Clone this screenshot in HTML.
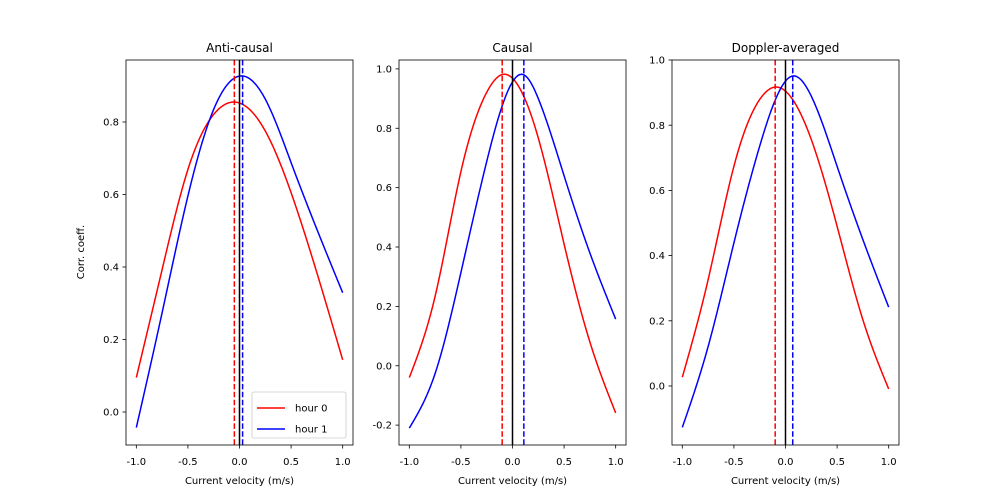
<!DOCTYPE html>
<html><head><meta charset="utf-8"><style>
body{margin:0;background:#fff}
svg{display:block;font-family:"DejaVu Sans","Liberation Sans",sans-serif}
</style></head><body>
<svg id="fig" width="1000" height="500" viewBox="0 0 1000 500"></svg>
<script>
const xTickLabels=["-1.0","-0.5","0.0","0.5","1.0"];
const xTicks=[-1,-0.5,0,0.5,1];
const titles=["Anti-causal","Causal","Doppler-averaged"];
const xs1=[-1,-0.75,-0.5,-0.25,-0.05,0.25,0.5,0.75,1];
const red1=[0.095,0.393,0.669,0.821,0.855,0.775,0.605,0.384,0.144];
const xb1=[-1,-0.75,-0.5,-0.25,0.03,0.25,0.5,0.75,1];
const blue1=[-0.043,0.274,0.596,0.835,0.927,0.863,0.688,0.504,0.329];
const xs2=[-1,-0.75,-0.5,-0.25,-0.1,0.25,0.5,0.75,1];
const red2=[-0.04,0.234,0.654,0.921,0.981,0.767,0.41,0.08,-0.159];
const xb2=[-1,-0.75,-0.5,-0.25,0.11,0.25,0.5,0.75,1];
const blue2=[-0.21,-0.026,0.314,0.688,0.98,0.9,0.64,0.38,0.157];
const xs3=[-1,-0.75,-0.5,-0.25,-0.1,0.25,0.5,0.75,1];
const red3=[0.027,0.326,0.674,0.879,0.917,0.756,0.49,0.203,-0.009];
const xb3=[-1,-0.75,-0.5,-0.25,0.07,0.25,0.5,0.75,1];
const blue3=[-0.127,0.121,0.439,0.736,0.951,0.889,0.674,0.449,0.242];
const peaksRed=[-0.05,-0.1,-0.1];
const peaksBlue=[0.03,0.11,0.07];
const yTicks1=[0,0.2,0.4,0.6,0.8], yTicks2=[-0.2,0,0.2,0.4,0.6,0.8,1.0], yTicks3=[0,0.2,0.4,0.6,0.8,1.0];
const yRanges=[[-0.091,0.971],[-0.267,1.030],[-0.181,1.0]];

const NS="http://www.w3.org/2000/svg";
const svg=document.getElementById('fig');
function mk(tag,attrs,parent){const e=document.createElementNS(NS,tag);for(const k in attrs)e.setAttribute(k,attrs[k]);(parent||svg).appendChild(e);return e;}
function spline(xs,ys){
  const n=xs.length,h=[],a=[],l=[1],mu=[0],z=[0],c=new Array(n).fill(0),b=[],d=[];
  for(let i=0;i<n-1;i++)h.push(xs[i+1]-xs[i]);
  for(let i=1;i<n-1;i++)a[i]=3/h[i]*(ys[i+1]-ys[i])-3/h[i-1]*(ys[i]-ys[i-1]);
  for(let i=1;i<n-1;i++){l[i]=2*(xs[i+1]-xs[i-1])-h[i-1]*mu[i-1];mu[i]=h[i]/l[i];z[i]=(a[i]-h[i-1]*z[i-1])/l[i];}
  for(let j=n-2;j>=0;j--){c[j]=(j<n-1&&j>0?z[j]:0)-mu[j]*c[j+1];if(j===0)c[0]=0;b[j]=(ys[j+1]-ys[j])/h[j]-h[j]*(c[j+1]+2*c[j])/3;d[j]=(c[j+1]-c[j])/(3*h[j]);}
  return x=>{let j=0;while(j<n-2&&x>xs[j+1])j++;const t=x-xs[j];return ys[j]+b[j]*t+c[j]*t*t+d[j]*t*t*t;};
}
function curvePath(xs,ys,X,Y){
  const f=spline(xs,ys);let d='';
  for(let k=0;k<=200;k++){const x=xs[0]+(xs[xs.length-1]-xs[0])*k/200;d+=(k?'L':'M')+X(x).toFixed(2)+','+Y(f(x)).toFixed(2);}
  return d;
}
const lefts=[126,399,672], W=227, AX_TOP=60, AX_BOT=445;
const series=[[xs1,red1,xb1,blue1,yTicks1],[xs2,red2,xb2,blue2,yTicks2],[xs3,red3,xb3,blue3,yTicks3]];
for(let p=0;p<3;p++){
  const L=lefts[p];
  const [y0,y1]=yRanges[p];
  const X=v=>L+(v+1.1)/2.2*W;
  const Y=v=>AX_BOT-(v-y0)/(y1-y0)*(AX_BOT-AX_TOP);
  const g=mk('g',{});
  
  
  const [xr,yr,xbb,ybb,yt]=series[p];
  const rl=mk('path',{d:curvePath(xr,yr,X,Y),fill:'none',stroke:'#f00','stroke-width':1.5},g);
  
  
  const bl=mk('path',{d:curvePath(xbb,ybb,X,Y),fill:'none',stroke:'#00f','stroke-width':1.5},g);
  
  
  const rd=mk('line',{x1:X(peaksRed[p]),x2:X(peaksRed[p]),y1:AX_TOP,y2:AX_BOT,stroke:'#f00','stroke-width':1.5,'stroke-dasharray':'5.5,2.4'},g);
  
  
  const bd=mk('line',{x1:X(peaksBlue[p]),x2:X(peaksBlue[p]),y1:AX_TOP,y2:AX_BOT,stroke:'#00f','stroke-width':1.5,'stroke-dasharray':'5.5,2.4'},g);
  
  
  const vz=mk('line',{x1:X(0),x2:X(0),y1:AX_TOP,y2:AX_BOT,stroke:'#000','stroke-width':1.5},g);
  
  
  const fr=mk('rect',{x:L,y:AX_TOP,width:W,height:AX_BOT-AX_TOP,fill:'none',stroke:'#000','stroke-width':0.8},g);
  
  
  xTicks.forEach((v,i)=>{
    mk('line',{x1:X(v),x2:X(v),y1:AX_BOT,y2:AX_BOT+3.5,stroke:'#000','stroke-width':0.8},g);
    const t=mk('text',{x:X(v),y:AX_BOT+20,'font-size':10,'text-anchor':'middle'},g);t.textContent=xTickLabels[i];
    
    
  });
  yt.forEach(v=>{
    mk('line',{x1:L-3.5,x2:L,y1:Y(v),y2:Y(v),stroke:'#000','stroke-width':0.8},g);
    const t=mk('text',{x:L-7,y:Y(v)+3.6,'font-size':10,'text-anchor':'end'},g);t.textContent=v.toFixed(1);
    
    
  });
  const tt=mk('text',{x:L+W/2,y:52,'font-size':12,'text-anchor':'middle'},g);tt.textContent=titles[p];
  
  
  const xl=mk('text',{x:L+W/2,y:484,'font-size':10,'text-anchor':'middle'},g);xl.textContent='Current velocity (m/s)';
  
  
}
const yl=mk('text',{x:84,y:252,'font-size':10,'text-anchor':'middle',transform:'rotate(-90 84 252)'});yl.textContent='Corr. coeff.';


const lg=mk('g',{});


mk('rect',{x:252,y:392,width:94,height:46,rx:2,fill:'#fff','fill-opacity':0.8,stroke:'#ccc','stroke-width':0.8},lg);
[['hour 0','#f00',408],['hour 1','#00f',429]].forEach(([n,c,y])=>{
  mk('line',{x1:257,x2:285,y1:y,y2:y,stroke:c,'stroke-width':1.5},lg);
  const t=mk('text',{x:295,y:y+3.6,'font-size':10},lg);t.textContent=n;
  
  
});
</script>
</body></html>
